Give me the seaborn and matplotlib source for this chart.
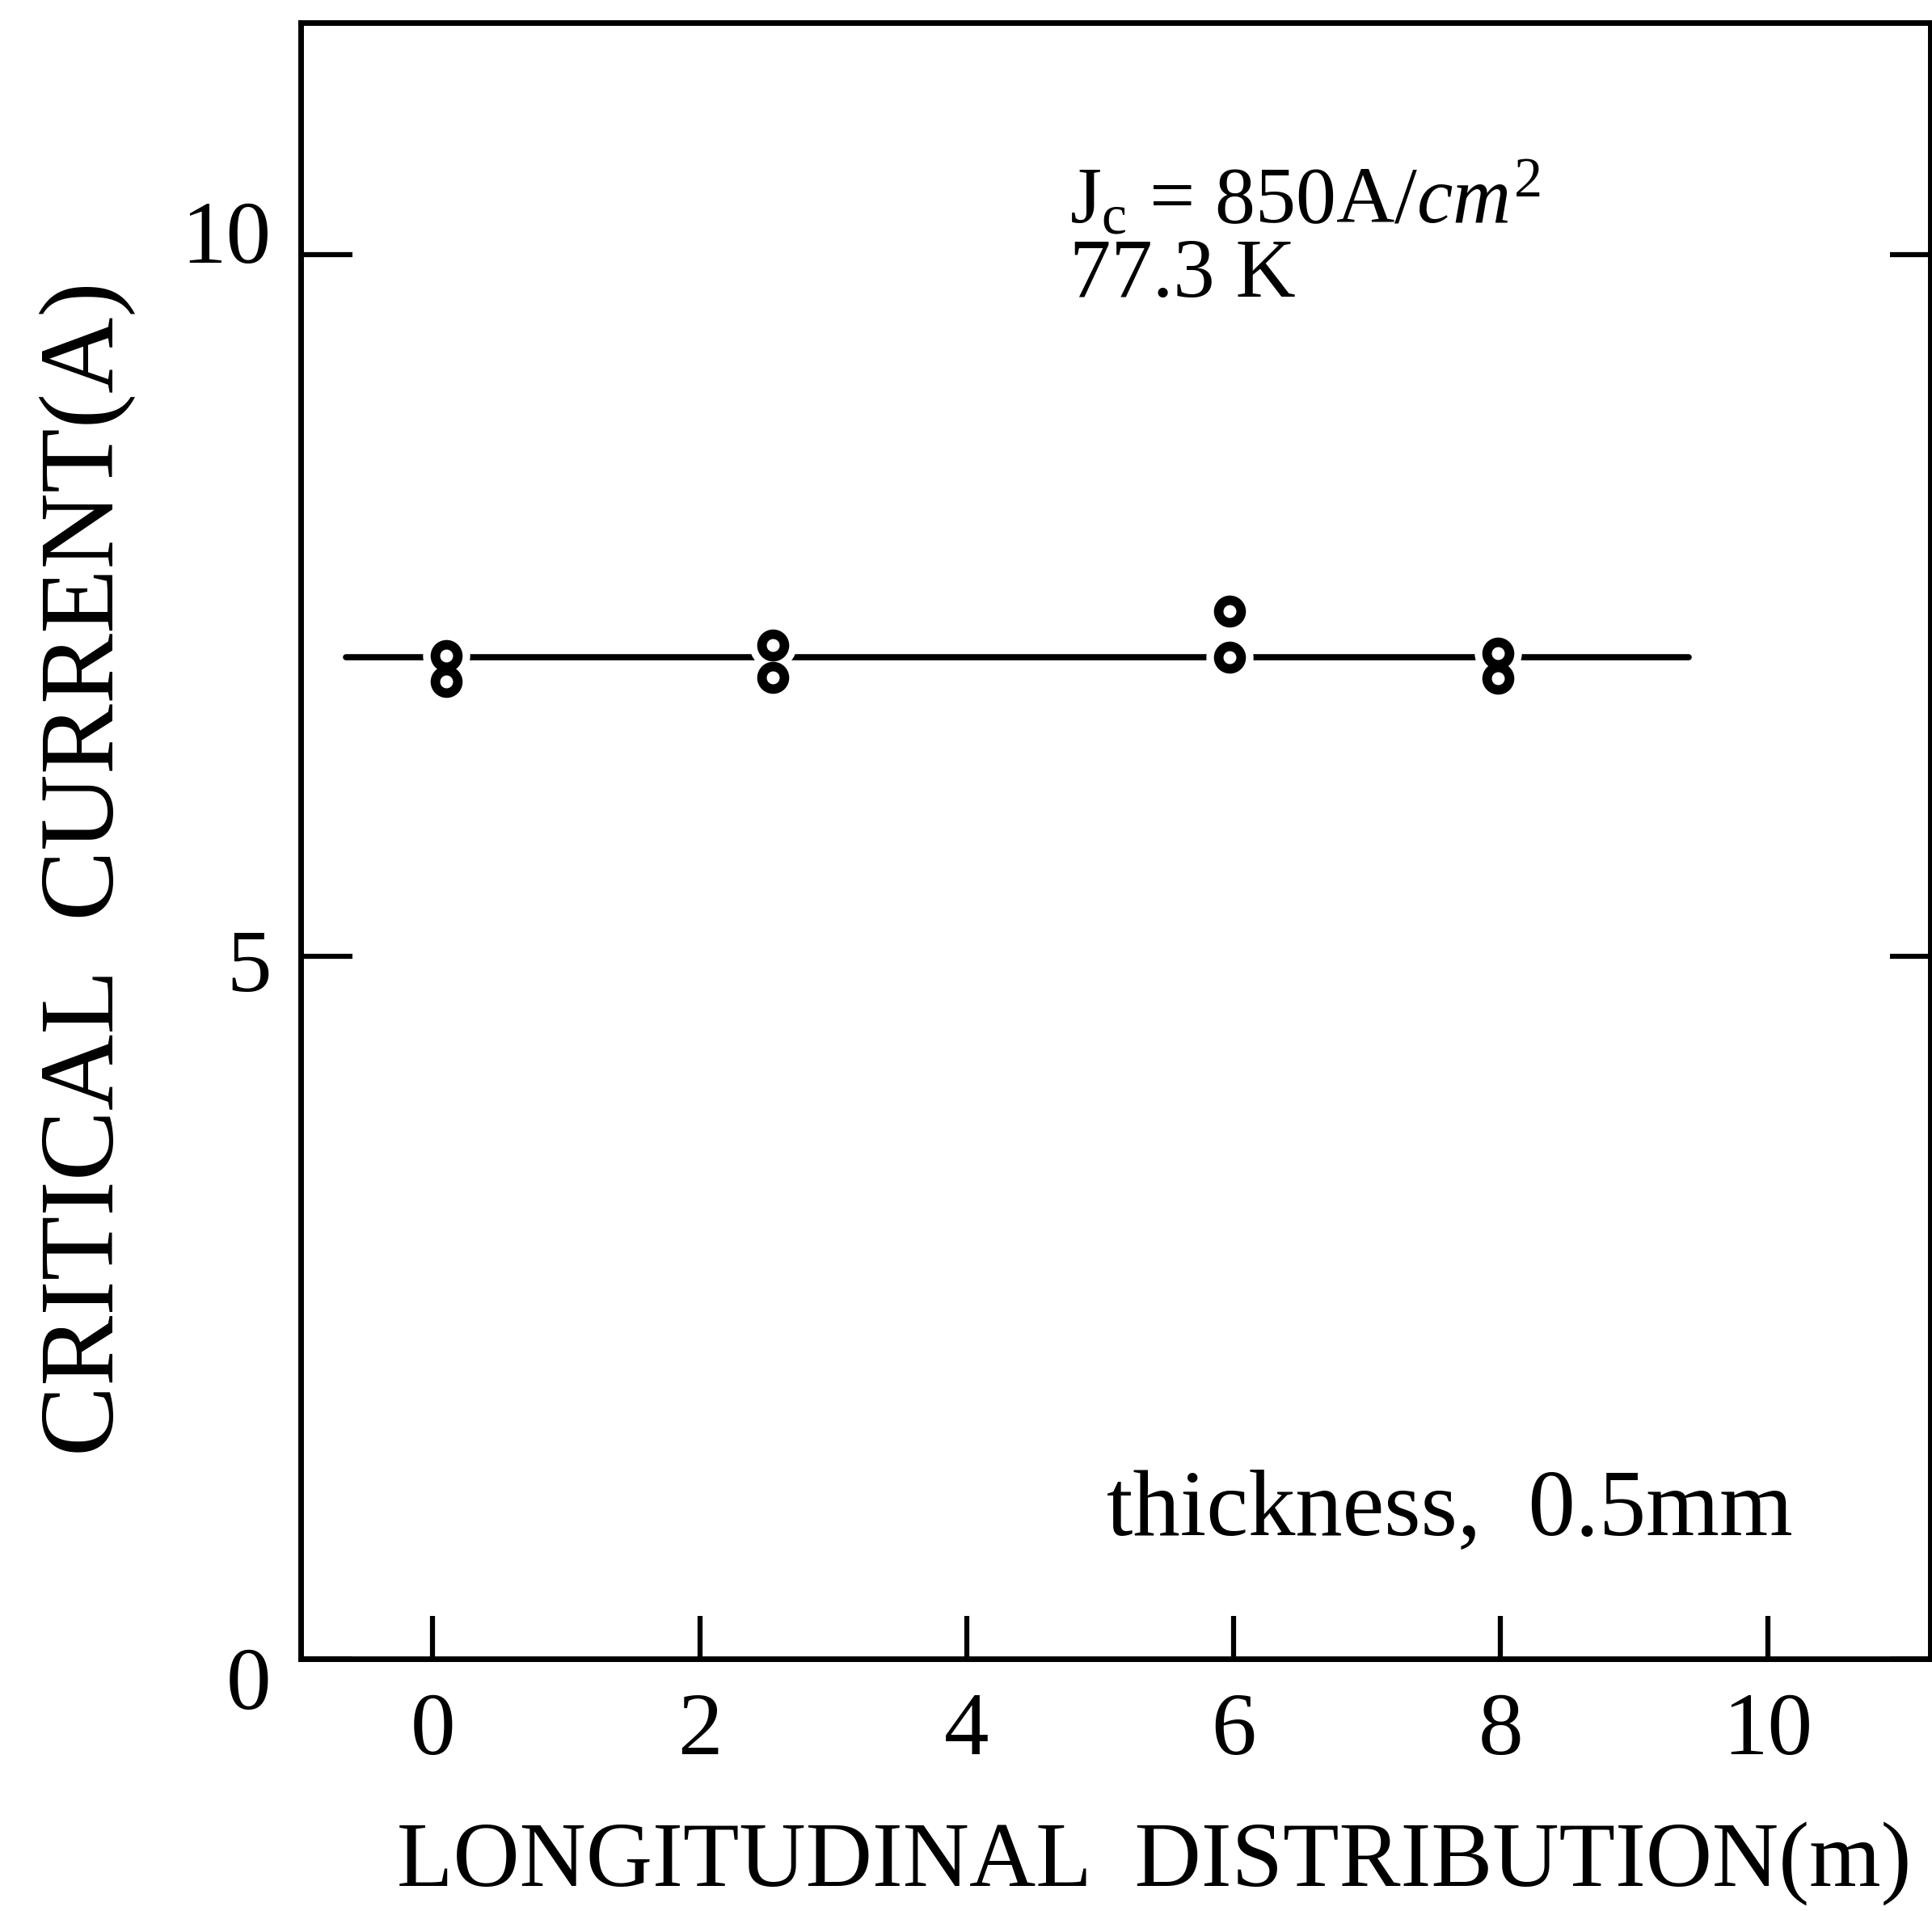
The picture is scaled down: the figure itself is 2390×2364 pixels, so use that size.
import matplotlib
matplotlib.use('Agg')
import matplotlib.pyplot as plt
import matplotlib.transforms as mtransforms
import seaborn as sns
import pandas as pd

# ---- data ----
positions = [0.10, 2.55, 5.97, 7.98]          # longitudinal position (m)
ic_upper = [7.14, 7.22, 7.46, 7.16]           # critical current, upper point (A)
ic_lower = [6.96, 6.99, 7.13, 6.98]           # critical current, lower point (A)
fit_x = [-0.65, 9.41]                         # horizontal guide line
fit_y = [7.13, 7.13]
x_ticks = [0, 2, 4, 6, 8, 10]
y_ticks = [0, 5, 10]
x_tick_labels = ["0", "2", "4", "6", "8", "10"]
y_tick_labels = ["0", "5", "10"]
x_label = "LONGITUDINAL  DISTRIBUTION(m)"
y_label = "CRITICAL  CURRENT(A)"
jc_text = r"J$_{\mathrm{c}}$ = 850A/$cm^2$"
temp_text = "77.3 K"
thick_text = "thickness,  0.5mm"

sns.set_theme(style='white')
plt.rcParams['font.family'] = ['Liberation Serif', 'DejaVu Serif']
plt.rcParams['mathtext.fontset'] = 'custom'
plt.rcParams['mathtext.rm'] = 'Liberation Serif'
plt.rcParams['mathtext.it'] = 'Liberation Serif:italic'
plt.rcParams['text.color'] = 'black'
plt.rcParams['axes.labelcolor'] = 'black'
plt.rcParams['xtick.color'] = 'black'
plt.rcParams['ytick.color'] = 'black'

fig = plt.figure(figsize=(23.9, 23.64), dpi=100)
fig.patch.set_facecolor('white')
ax = fig.add_axes([0.1556, 0.132, 0.8436, 0.8562])
ax.set_facecolor('white')

points = pd.DataFrame({'x': positions + positions, 'y': ic_upper + ic_lower})
fit = pd.DataFrame({'x': fit_x, 'y': fit_y})

sns.lineplot(data=fit, x='x', y='y', color='black', linewidth=5.5, ax=ax, zorder=2)
# white halo so the line stops short of the circles
sns.scatterplot(data=points, x='x', y='y', s=42 ** 2, color='white', linewidth=0,
                ax=ax, zorder=3, legend=False)
sns.scatterplot(data=points, x='x', y='y', s=20 ** 2, color='white', edgecolor='black',
                linewidth=8.5, ax=ax, zorder=4, legend=False)

ax.set_xlim(-0.99, 11.22)
ax.set_ylim(0, 11.65)
ax.set_xticks(x_ticks)
ax.set_xticklabels(x_tick_labels)
ax.set_yticks(y_ticks)
ax.set_yticklabels(y_tick_labels)

ax.tick_params(axis='x', direction='in', length=38, width=4.5, labelsize=80, pad=30,
               bottom=True, top=False)
ax.tick_params(axis='y', direction='in', length=46, width=4.5, labelsize=80, pad=26,
               left=True, right=True)

# vertical nudges of the y tick labels (points), as in the reference
label_nudges = [-17, -3, 20]
for t, dy in zip(ax.yaxis.get_major_ticks(), label_nudges):
    off = mtransforms.ScaledTranslation(0, dy / 72, fig.dpi_scale_trans)
    t.label1.set_transform(t.label1.get_transform() + off)
    t.tick2line.set_markersize(36)

for sp in ax.spines.values():
    sp.set_visible(True)
    sp.set_color('black')
    sp.set_linewidth(5.0)
ax.grid(False)

ax.set_xlabel(x_label, fontsize=82, ha='left', va='baseline')
ax.xaxis.set_label_coords(0.059, -0.1385)
ax.set_ylabel(y_label, fontsize=94, ha='center', va='center')
ax.yaxis.set_label_coords(-0.131, 0.483)

ax.text(4.77, 10.22, jc_text, fontsize=72, ha='left', va='baseline')
ax.text(4.77, 9.70, temp_text, fontsize=74, ha='left', va='baseline')
ax.text(5.05, 0.886, thick_text, fontsize=84, ha='left', va='baseline')

fig.savefig('out.png', dpi=100, facecolor='white')
